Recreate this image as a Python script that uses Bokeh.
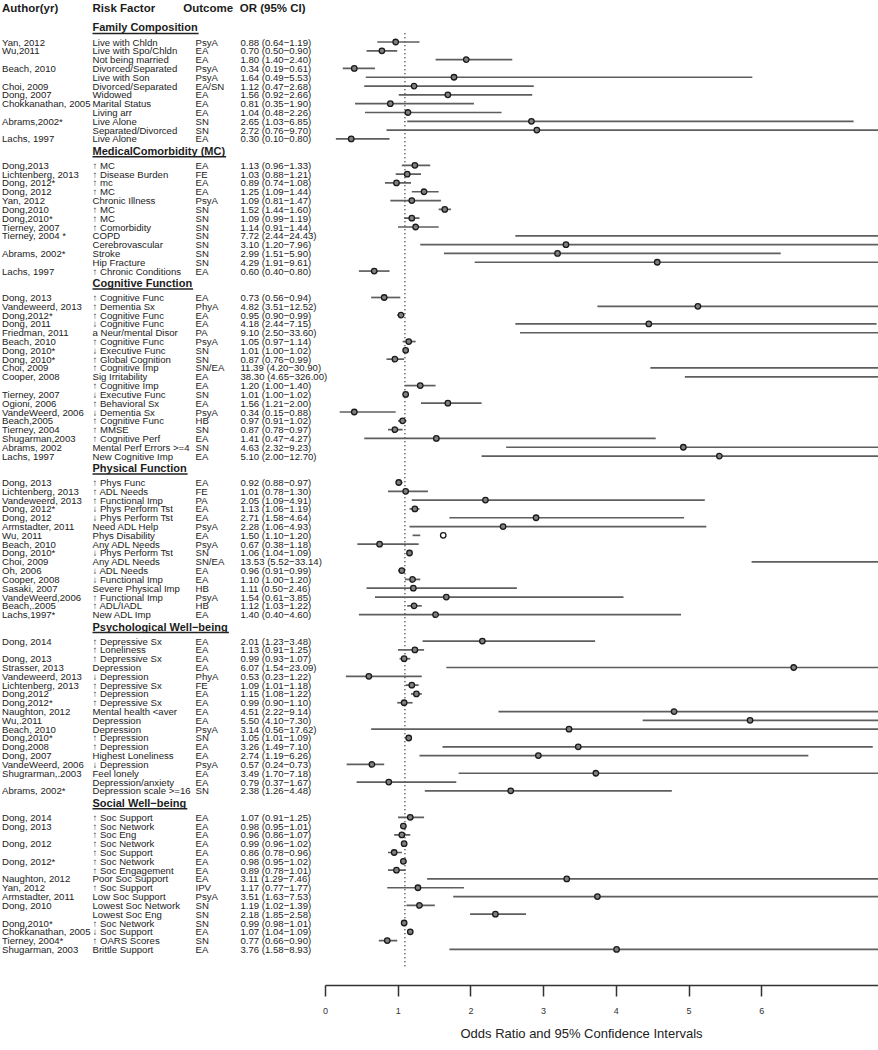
from bokeh.plotting import figure
from bokeh.models import ColumnDataSource, Range1d, LinearAxis, FixedTicker, Title
from bokeh.core.properties import value
from bokeh.embed import file_html
from bokeh.resources import INLINE

# ---------------- data ----------------
sections = ["Family Composition", "MedicalComorbidity (MC)", "Cognitive Function",
            "Physical Function", "Psychological Well\u2212being", "Social Well\u2212being"]
section_sizes = [12, 13, 19, 16, 18, 16]

authors = [
    # Family Composition
    "Yan, 2012", "Wu,2011", "", "Beach, 2010", "", "Choi, 2009", "Dong, 2007",
    "Chokkanathan, 2005", "", "Abrams,2002*", "", "Lachs, 1997",
    # Medical comorbidity
    "Dong,2013", "Lichtenberg, 2013", "Dong, 2012*", "Dong, 2012", "Yan, 2012", "Dong,2010",
    "Dong,2010*", "Tierney, 2007", "Tierney, 2004 *", "", "Abrams, 2002*", "", "Lachs, 1997",
    # Cognitive function
    "Dong, 2013", "Vandeweerd, 2013", "Dong,2012*", "Dong, 2011", "Friedman, 2011", "Beach, 2010",
    "Dong, 2010*", "Dong, 2010*", "Choi, 2009", "Cooper, 2008", "", "Tierney, 2007", "Ogioni, 2006",
    "VandeWeerd, 2006", "Beach,2005", "Tierney, 2004", "Shugarman,2003", "Abrams, 2002", "Lachs, 1997",
    # Physical function
    "Dong, 2013", "Lichtenberg, 2013", "Vandeweerd, 2013", "Dong, 2012*", "Dong, 2012",
    "Armstadter, 2011", "Wu, 2011", "Beach, 2010", "Dong, 2010*", "Choi, 2009", "Oh, 2006",
    "Cooper, 2008", "Sasaki, 2007", "VandeWeerd,2006", "Beach,.2005", "Lachs,1997*",
    # Psychological well-being
    "Dong, 2014", "", "Dong, 2013", "Strasser, 2013", "Vandeweerd, 2013", "Lichtenberg, 2013",
    "Dong,2012", "Dong,2012*", "Naughton, 2012", "Wu,.2011", "Beach, 2010", "Dong,2010*",
    "Dong,2008", "Dong, 2007", "VandeWeerd, 2006", "Shugrarman,.2003", "", "Abrams, 2002*",
    # Social well-being
    "Dong, 2014", "Dong, 2013", "", "Dong, 2012", "", "Dong, 2012*", "", "Naughton, 2012",
    "Yan, 2012", "Armstadter, 2011", "Dong, 2010", "", "Dong,2010*", "Chokkanathan, 2005",
    "Tierney, 2004*", "Shugarman, 2003",
]

risk_factors = [
    "Live with Chldn", "Live with Spo/Chldn", "Not being married", "Divorced/Separated",
    "Live with Son", "Divorced/Separated", "Widowed", "Marital Status", "Living arr",
    "Live Alone", "Separated/Divorced", "Live Alone",
    "\u2191 MC", "\u2191 Disease Burden", "\u2191 mc", "\u2191 MC", "Chronic Illness", "\u2191 MC",
    "\u2191 MC", "\u2191 Comorbidity", "COPD", "Cerebrovascular", "Stroke", "Hip Fracture",
    "\u2191 Chronic Conditions",
    "\u2191 Cognitive Func", "\u2191 Dementia Sx", "\u2191 Cognitive Func", "\u2193 Cognitive Func",
    "a Neur/mental Disor", "\u2191 Cognitive Func", "\u2193 Executive Func", "\u2191 Global Cognition",
    "\u2191 Cognitive Imp", "Sig Irritability", "\u2191 Cognitive Imp", "\u2193 Executive Func",
    "\u2191 Behavioral Sx", "\u2193 Dementia Sx", "\u2191 Cognitive Func", "\u2191 MMSE",
    "\u2191 Cognitive Perf", "Mental Perf Errors >=4", "New Cognitive Imp",
    "\u2191 Phys Func", "\u2191 ADL Needs", "\u2191 Functional Imp", "\u2193 Phys Perform Tst",
    "\u2193 Phys Perform Tst", "Need ADL Help", "Phys Disability", "Any ADL Needs",
    "\u2193 Phys Perform Tst", "Any ADL Needs", "\u2193 ADL Needs", "\u2193 Functional Imp",
    "Severe Physical Imp", "\u2191 Functional Imp", "\u2191 ADL/IADL", "New ADL Imp",
    "\u2191 Depressive Sx", "\u2191 Loneliness", "\u2191 Depressive Sx", "Depression",
    "\u2193 Depression", "\u2191 Depressive Sx", "\u2191 Depression", "\u2191 Depressive Sx",
    "Mental health <aver", "Depression", "Depression", "\u2191 Depression", "\u2191 Depression",
    "Highest Loneliness", "\u2193 Depression", "Feel lonely", "Depression/anxiety",
    "Depression scale >=16",
    "\u2191 Soc Support", "\u2191 Soc Network", "\u2191 Soc Eng", "\u2191 Soc Network",
    "\u2191 Soc Support", "\u2191 Soc Network", "\u2191 Soc Engagement", "Poor Soc Support",
    "\u2191 Soc Support", "Low Soc Support", "Lowest Soc Network", "Lowest Soc Eng",
    "\u2191 Soc Network", "\u2193 Soc Support", "\u2191 OARS Scores", "Brittle Support",
]

outcomes = [
    "PsyA", "EA", "EA", "PsyA", "PsyA", "EA/SN", "EA", "EA", "EA", "SN", "SN", "EA",
    "EA", "FE", "EA", "EA", "PsyA", "SN", "SN", "SN", "SN", "SN", "SN", "SN", "EA",
    "EA", "PhyA", "EA", "EA", "PA", "PsyA", "SN", "SN", "SN/EA", "EA", "EA", "SN", "EA",
    "PsyA", "HB", "SN", "EA", "SN", "EA",
    "EA", "FE", "PA", "EA", "EA", "PsyA", "EA", "PsyA", "SN", "SN/EA", "EA", "EA", "HB",
    "PsyA", "HB", "EA",
    "EA", "EA", "EA", "EA", "PhyA", "FE", "EA", "EA", "EA", "EA", "PsyA", "SN", "EA", "EA",
    "PsyA", "EA", "EA", "SN",
    "EA", "EA", "EA", "EA", "EA", "EA", "EA", "EA", "IPV", "PsyA", "SN", "SN", "SN", "EA",
    "SN", "EA",
]

odds_ratio = [
    0.88, 0.70, 1.80, 0.34, 1.64, 1.12, 1.56, 0.81, 1.04, 2.65, 2.72, 0.30,
    1.13, 1.03, 0.89, 1.25, 1.09, 1.52, 1.09, 1.14, 7.72, 3.10, 2.99, 4.29, 0.60,
    0.73, 4.82, 0.95, 4.18, 9.10, 1.05, 1.01, 0.87, 11.39, 38.30, 1.20, 1.01, 1.56, 0.34,
    0.97, 0.87, 1.41, 4.63, 5.10,
    0.92, 1.01, 2.05, 1.13, 2.71, 2.28, 1.50, 0.67, 1.06, 13.53, 0.96, 1.10, 1.11, 1.54,
    1.12, 1.40,
    2.01, 1.13, 0.99, 6.07, 0.53, 1.09, 1.15, 0.99, 4.51, 5.50, 3.14, 1.05, 3.26, 2.74,
    0.57, 3.49, 0.79, 2.38,
    1.07, 0.98, 0.96, 0.99, 0.86, 0.98, 0.89, 3.11, 1.17, 3.51, 1.19, 2.18, 0.99, 1.07,
    0.77, 3.76,
]

ci_low = [
    0.64, 0.50, 1.40, 0.19, 0.49, 0.47, 0.92, 0.35, 0.48, 1.03, 0.76, 0.10,
    0.96, 0.88, 0.74, 1.09, 0.81, 1.44, 0.99, 0.91, 2.44, 1.20, 1.51, 1.91, 0.40,
    0.56, 3.51, 0.90, 2.44, 2.50, 0.97, 1.00, 0.76, 4.20, 4.65, 1.00, 1.00, 1.21, 0.15,
    0.91, 0.78, 0.47, 2.32, 2.00,
    0.88, 0.78, 1.09, 1.06, 1.58, 1.06, 1.10, 0.38, 1.04, 5.52, 0.91, 1.00, 0.50, 0.61,
    1.03, 0.40,
    1.23, 0.91, 0.93, 1.54, 0.23, 1.01, 1.08, 0.90, 2.22, 4.10, 0.56, 1.01, 1.49, 1.19,
    0.24, 1.70, 0.37, 1.26,
    0.91, 0.95, 0.86, 0.96, 0.78, 0.95, 0.78, 1.29, 0.77, 1.63, 1.02, 1.85, 0.98, 1.04,
    0.66, 1.58,
]

ci_high = [
    1.19, 0.90, 2.40, 0.61, 5.53, 2.68, 2.66, 1.90, 2.26, 6.85, 9.70, 0.80,
    1.33, 1.21, 1.08, 1.44, 1.47, 1.60, 1.19, 1.44, 24.43, 7.96, 5.90, 9.61, 0.80,
    0.94, 12.52, 0.99, 7.15, 33.60, 1.14, 1.02, 0.99, 30.90, 326.00, 1.40, 1.02, 2.00, 0.88,
    1.02, 0.97, 4.27, 9.23, 12.70,
    0.97, 1.30, 4.91, 1.19, 4.64, 4.93, 1.20, 1.18, 1.09, 33.14, 0.99, 1.20, 2.46, 3.85,
    1.22, 4.60,
    3.48, 1.25, 1.07, 23.09, 1.22, 1.18, 1.22, 1.10, 9.14, 7.30, 17.62, 1.09, 7.10, 6.26,
    0.73, 7.18, 1.67, 4.48,
    1.25, 1.01, 1.07, 1.02, 0.96, 1.02, 1.01, 7.46, 1.77, 7.53, 1.39, 2.58, 1.01, 1.09,
    0.90, 8.93,
]

header_labels = ["Author(yr)", "Risk Factor", "Outcome", "OR (95% CI)"]
axis_ticks = [0, 1, 2, 3, 4, 5, 6]
axis_title = "Odds Ratio and 95% Confidence Intervals"
null_value = 1.0

# ---------------- layout constants (page pixels; figure sits at page 0,0) ----------------
W, H = 878, 1050
FRAME_TOP, FRAME_BOTTOM = 0, 985
OR0_PAGE, OR_PX = 327.7, 76.7        # data scale of the markers
AX0_PAGE, AX_PX = 325.0, 72.7        # scale of the printed axis
ROW0_PAGE, ROW_PX = 41.5, 8.81
FONT = "Liberation Sans"


def xpx(page_x):
    return (page_x - OR0_PAGE) / OR_PX


def ypx(page_y):
    return (page_y - ROW0_PAGE) / ROW_PX


X0, X1 = xpx(0), xpx(W)
AXR0, AXR1 = (0 - AX0_PAGE) / AX_PX, (W - AX0_PAGE) / AX_PX

# rows: two empty row-slots between sections, the section header sits in that gap
rows, header_rows = [], []
r = 0
for n in section_sizes:
    header_rows.append(r - 1.65)
    rows.extend(range(r, r + n))
    r += n + 2
last_row = rows[-1]

or_text = ["%.2f (%.2f\u2212%.2f)" % (o, lo, hi) for o, lo, hi in zip(odds_ratio, ci_low, ci_high)]
fills = ["white" if (o < lo or o > hi) else "#808080" for o, lo, hi in zip(odds_ratio, ci_low, ci_high)]

COL_AUTHOR, COL_RISK, COL_OUT, COL_OR = 1.5, 92.0, 195.0, 240.0
HDR_OUT, HDR_OR = 182.7, 239.3

src = ColumnDataSource(dict(
    y=rows, author=authors, risk=risk_factors, outcome=outcomes, ortext=or_text,
    orv=odds_ratio, lo=ci_low, hi=ci_high, fill=fills,
))

p = figure(width=W, height=H, x_range=Range1d(X0, X1),
           y_range=Range1d(start=ypx(FRAME_BOTTOM), end=ypx(FRAME_TOP)),
           output_backend="svg", toolbar_location=None,
           x_axis_location=None, y_axis_location=None,
           min_border=0, min_border_bottom=H - FRAME_BOTTOM)
p.grid.visible = False
p.outline_line_color = None
p.background_fill_color = "white"
p.border_fill_color = "white"

TXT = "#1c1c1c"
row_font = "9.6px"

# table columns
for col, xpos in [("author", COL_AUTHOR), ("risk", COL_RISK), ("outcome", COL_OUT), ("ortext", COL_OR)]:
    p.text(x=xpx(xpos), y="y", text=col, source=src, text_font=value(FONT),
           text_font_size=row_font, text_baseline="middle", text_align="left", text_color=TXT)

# column headers
hdr_y = ypx(7.5)
p.text(x=[xpx(COL_AUTHOR), xpx(COL_RISK), xpx(HDR_OUT), xpx(HDR_OR)], y=[hdr_y] * 4,
       text=header_labels, text_font=value(FONT), text_font_size="11.5px",
       text_font_style="bold", text_baseline="middle", text_align="left", text_color=TXT)

# section headers with underline
p.text(x=[xpx(COL_RISK)] * len(sections), y=header_rows, text=sections,
       text_font=value(FONT), text_font_size="11px", text_font_style="bold",
       text_baseline="middle", text_align="left", text_color=TXT)

bold_w = {' ': 278, '(': 333, ')': 333, '\u2212': 584, '-': 333, 'A': 722, 'B': 722, 'C': 722,
          'D': 722, 'E': 667, 'F': 611, 'M': 833, 'P': 667, 'S': 667, 'W': 944, 'a': 556,
          'b': 611, 'c': 556, 'd': 611, 'e': 556, 'f': 333, 'g': 611, 'h': 611, 'i': 278,
          'k': 556, 'l': 278, 'm': 889, 'n': 611, 'o': 611, 'p': 611, 'r': 389, 's': 556,
          't': 333, 'u': 611, 'v': 556, 'y': 556}
ul_x0, ul_x1, ul_y = [], [], []
for name, hr in zip(sections, header_rows):
    wpx = sum(bold_w.get(ch, 600) for ch in name) * 11.0 / 1000.0
    ul_x0.append(xpx(COL_RISK))
    ul_x1.append(xpx(COL_RISK + wpx + 1))
    ul_y.append(hr + 6.0 / ROW_PX)
p.segment(x0=ul_x0, y0=ul_y, x1=ul_x1, y1=ul_y, line_color="#222222", line_width=1.5)

# reference line at OR = 1
p.segment(x0=[null_value], y0=[-1], x1=[null_value], y1=[last_row + 2],
          line_color="#333333", line_width=1.5, line_dash="1 3")

# confidence intervals and point estimates
p.segment(x0="lo", y0="y", x1="hi", y1="y", source=src, line_color="#5e5e5e", line_width=1.7)
p.scatter(x="orv", y="y", source=src, size=5.5, fill_color="fill", line_color="#1a1a1a",
          line_width=1.3)

# printed axis
p.extra_x_ranges = {"axis": Range1d(AXR0, AXR1)}
ax = LinearAxis(x_range_name="axis", ticker=FixedTicker(ticks=axis_ticks), bounds=(0, AXR1))
ax.axis_line_color = "#333333"
ax.axis_line_width = 1.5
ax.major_tick_line_color = "#333333"
ax.major_tick_line_width = 1.5
ax.major_tick_out = 11
ax.major_tick_in = 0
ax.minor_tick_out = 0
ax.minor_tick_in = 0
ax.major_label_standoff = 11
ax.major_label_text_font = FONT
ax.major_label_text_font_size = "9px"
ax.major_label_text_color = "#333333"
p.add_layout(ax, "below")

p.add_layout(Title(text=axis_title, align="left", offset=460, text_font=FONT,
                   text_font_size="13px", text_font_style="normal", text_color="#222222",
                   standoff=15), "below")

open("out.html", "w").write(file_html(p, INLINE))
